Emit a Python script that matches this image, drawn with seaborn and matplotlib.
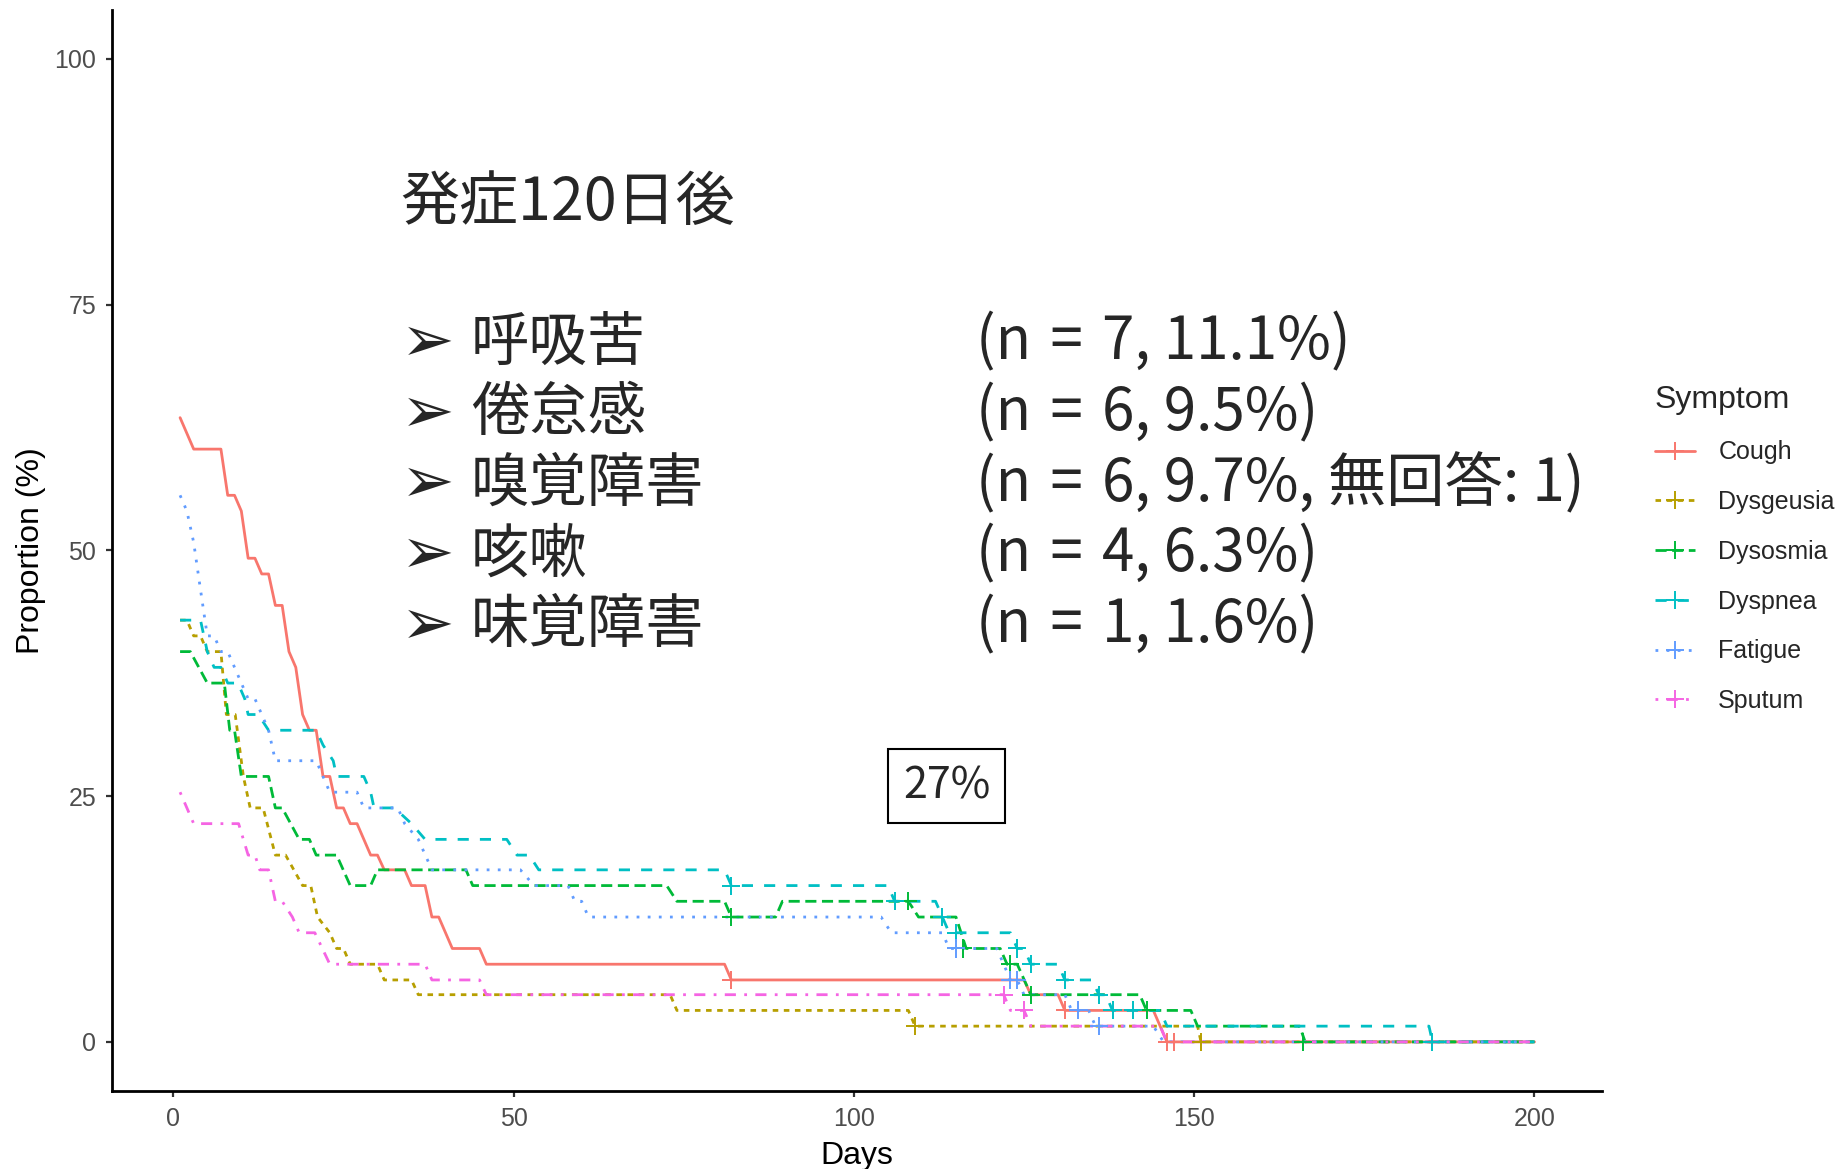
import matplotlib
matplotlib.use("Agg")
import matplotlib.pyplot as plt
from matplotlib.lines import Line2D
import pandas as pd
import seaborn as sns

# Symptom persistence curves (proportion of patients still reporting each symptom)
symptoms = ["Cough", "Dysgeusia", "Dysosmia", "Dyspnea", "Fatigue", "Sputum"]
colors = ["#F8766D", "#B79F00", "#00BA38", "#00BFC4", "#619CFF", "#F564E3"]
dash_patterns = ["", (2, 2), (4, 2), (4, 4), (1, 3), (1, 3, 4, 3)]

cough_day = [1, 3, 7, 8, 9, 10, 11, 12, 13, 14, 15, 16, 17, 18, 19, 20, 21, 22, 23, 24,
             25, 26, 27, 29, 30, 31, 34, 35, 37, 38, 39, 41, 45, 46, 81, 82, 125, 126,
             130, 131, 144, 146, 200]
cough_pct = [63.5, 60.3, 60.3, 55.6, 55.6, 54.0, 49.2, 49.2, 47.6, 47.6, 44.4, 44.4, 39.7,
             38.1, 33.3, 31.7, 31.7, 27.0, 27.0, 23.8, 23.8, 22.2, 22.2, 19.0, 19.0, 17.5,
             17.5, 15.9, 15.9, 12.7, 12.7, 9.5, 9.5, 7.9, 7.9, 6.3, 6.3, 4.8, 4.8, 3.2, 3.2,
             0.0, 0.0]

dysgeusia_day = [1, 2, 3, 4, 5, 7, 7.8, 8.6, 9.1, 10.3, 11.3, 13.2, 15, 16.5, 19, 20.2,
                 21.2, 23, 24, 25, 26, 30, 31, 35, 36, 73, 74, 108, 109, 150.5, 151, 200]
dysgeusia_pct = [42.9, 42.9, 41.3, 41.3, 39.7, 39.7, 33.3, 33.3, 33.3, 27.0, 23.8, 23.8,
                 19.0, 19.0, 15.9, 15.9, 12.7, 11.1, 9.5, 9.5, 7.9, 7.9, 6.3, 6.3, 4.8,
                 4.8, 3.2, 3.2, 1.6, 1.6, 0.0, 0.0]

dysosmia_day = [1, 2.5, 5, 7.5, 8.3, 9, 10, 14, 15, 16, 18.5, 20, 21, 24, 26, 29, 30, 43,
                44, 72.5, 74, 81, 82, 88.5, 89.5, 108, 109.5, 115, 116.5, 121.5, 122.5,
                124, 126, 142, 143, 149.5, 150.5, 165.5, 166.3, 200]
dysosmia_pct = [39.7, 39.7, 36.5, 36.5, 31.7, 31.7, 27.0, 27.0, 23.8, 23.8, 20.6, 20.6,
                19.0, 19.0, 15.9, 15.9, 17.5, 17.5, 15.9, 15.9, 14.3, 14.3, 12.7, 12.7,
                14.3, 14.3, 12.7, 12.7, 9.5, 9.5, 7.9, 7.9, 4.8, 4.8, 3.2, 3.2, 1.6, 1.6,
                0.0, 0.0]

dyspnea_day = [1, 4, 5, 6, 7, 8, 9.5, 10.5, 11, 12.5, 14, 21, 22, 23.5, 24, 28, 29, 29.5,
               32.5, 35, 37, 49, 50.5, 52.3, 53.7, 81, 82, 105, 106, 112, 113, 114, 123,
               124, 125, 126, 130, 131, 135, 136, 137, 138, 145, 146, 184.5, 185, 200]
dyspnea_pct = [42.9, 42.9, 39.7, 38.1, 38.1, 36.5, 36.5, 34.9, 33.3, 33.3, 31.7, 31.7,
               30.2, 28.6, 27.0, 27.0, 25.4, 23.8, 23.8, 22.2, 20.6, 20.6, 19.0, 19.0,
               17.5, 17.5, 15.9, 15.9, 14.3, 14.3, 12.7, 11.1, 11.1, 9.5, 9.5, 7.9, 7.9,
               6.3, 6.3, 4.8, 4.8, 3.2, 3.2, 1.6, 1.6, 0.0, 0.0]

fatigue_day = [1, 2, 3, 4, 5, 6, 7, 8, 9, 10, 11, 12, 13, 14, 15, 21, 22, 23, 27, 28, 33,
               34, 36, 38, 51, 53, 58, 59, 60, 61, 104, 105.5, 113, 114, 121, 122, 123,
               124, 125, 131, 132, 134.5, 135.5, 144, 145.5, 200]
fatigue_pct = [55.6, 54.0, 50.8, 46.0, 41.3, 41.3, 39.7, 39.7, 38.1, 36.5, 34.9, 34.9,
               33.3, 31.7, 28.6, 28.6, 27.0, 25.4, 25.4, 23.8, 23.8, 22.2, 20.6, 17.5,
               17.5, 15.9, 15.9, 14.3, 14.3, 12.7, 12.7, 11.1, 11.1, 9.5, 9.5, 7.9, 6.3,
               6.3, 4.8, 4.8, 3.2, 3.2, 1.6, 1.6, 0.0, 0.0]

sputum_day = [1, 2, 3, 9.6, 11, 12, 12.7, 14, 15, 16, 17.5, 18.5, 20.8, 23, 37, 38, 45,
              46, 122, 123, 125, 126, 145, 146, 200]
sputum_pct = [25.4, 23.8, 22.2, 22.2, 19.0, 19.0, 17.5, 17.5, 14.3, 14.3, 12.7, 11.1,
              11.1, 7.9, 7.9, 6.3, 6.3, 4.8, 4.8, 3.2, 3.2, 1.6, 1.6, 0.0, 0.0]

# censored observations (+)
cough_cens_day = [82, 131, 146, 147]
cough_cens_pct = [6.3, 3.2, 0.0, 0.0]
dysgeusia_cens_day = [109, 151]
dysgeusia_cens_pct = [1.6, 0.0]
dysosmia_cens_day = [82, 108, 116, 123, 126, 143, 166]
dysosmia_cens_pct = [12.7, 14.3, 9.5, 7.9, 4.8, 3.2, 0.0]
dyspnea_cens_day = [82, 106, 113, 115, 124, 126, 131, 136, 138, 141, 185]
dyspnea_cens_pct = [15.9, 14.3, 12.7, 11.1, 9.5, 7.9, 6.3, 4.8, 3.2, 3.2, 0.0]
fatigue_cens_day = [115, 123, 124, 133, 136]
fatigue_cens_pct = [9.5, 6.3, 6.3, 3.2, 1.6]
sputum_cens_day = [122, 125]
sputum_cens_pct = [4.8, 3.2]

# annotation text
headline = "発症120日後"
item_labels = ["呼吸苦", "倦怠感", "嗅覚障害", "咳嗽", "味覚障害"]
item_counts = ["(n\u2004=\u20047, 11.1%)", "(n\u2004=\u20046, 9.5%)",
               "(n\u2004=\u20046, 9.7%, 無回答: 1)", "(n\u2004=\u20044, 6.3%)",
               "(n\u2004=\u20041, 1.6%)"]
box_label = "27%"
box_day, box_pct = 113.6, 26.0

curves = {
    "Cough": (cough_day, cough_pct, cough_cens_day, cough_cens_pct),
    "Dysgeusia": (dysgeusia_day, dysgeusia_pct, dysgeusia_cens_day, dysgeusia_cens_pct),
    "Dysosmia": (dysosmia_day, dysosmia_pct, dysosmia_cens_day, dysosmia_cens_pct),
    "Dyspnea": (dyspnea_day, dyspnea_pct, dyspnea_cens_day, dyspnea_cens_pct),
    "Fatigue": (fatigue_day, fatigue_pct, fatigue_cens_day, fatigue_cens_pct),
    "Sputum": (sputum_day, sputum_pct, sputum_cens_day, sputum_cens_pct),
}

line_rows, cens_rows = [], []
for name, (d, p, cd, cp) in curves.items():
    line_rows += [(name, i, x, y) for i, (x, y) in enumerate(zip(d, p))]
    cens_rows += [(name, x, y) for x, y in zip(cd, cp)]
lines_df = pd.DataFrame(line_rows, columns=["Symptom", "order", "Days", "Proportion"])
cens_df = pd.DataFrame(cens_rows, columns=["Symptom", "Days", "Proportion"])

sns.set_theme(style="white")
plt.rcParams["font.family"] = ["Liberation Sans", "Noto Sans CJK JP", "DejaVu Sans"]

palette = dict(zip(symptoms, colors))
dashes = dict(zip(symptoms, dash_patterns))
LW = 2.0

fig = plt.figure(figsize=(18.48, 11.69), dpi=100)
ax = fig.add_axes([0.0608, 0.0667, 0.8062, 0.925])

sns.lineplot(data=lines_df, x="Days", y="Proportion", hue="Symptom", style="Symptom",
             hue_order=symptoms, style_order=symptoms, palette=palette, dashes=dashes,
             estimator=None, sort=False, units="Symptom", linewidth=LW, legend=False, ax=ax)
sns.scatterplot(data=cens_df, x="Days", y="Proportion", hue="Symptom", hue_order=symptoms,
                palette=palette, marker="+", s=170, linewidth=1.4, legend=False, ax=ax,
                zorder=3)

ax.set_xlim(-8.95, 209.95)
ax.set_ylim(-5, 105)
ax.set_xticks([0, 50, 100, 150, 200])
ax.set_yticks([0, 25, 50, 75, 100])
for side in ["top", "right"]:
    ax.spines[side].set_visible(False)
for side in ["left", "bottom"]:
    ax.spines[side].set_linewidth(2.0)
    ax.spines[side].set_color("black")
ax.tick_params(axis="both", which="major", length=4.5, width=1.6, color="#333333",
               labelsize=18, labelcolor="#4D4D4D", pad=7, left=True, bottom=True)
ax.set_xlabel("Days", fontsize=23, color="black", labelpad=7)
ax.set_ylabel("Proportion (%)", fontsize=23, color="black", labelpad=6)
ax.grid(False)

cjk = ["Noto Sans CJK JP", "DejaVu Sans"]
fig.text(0.2165, 0.8255, headline, fontsize=42.5, family=cjk, ha="left", va="center")
row_y = [0.7067, 0.6461, 0.5856, 0.5251, 0.4647]
for y, lab, cnt in zip(row_y, item_labels, item_counts):
    fig.text(0.2168, y, "\u27a2", fontsize=46, family=["DejaVu Sans"], ha="left", va="center")
    fig.text(0.2549, y, lab, fontsize=42, family=cjk, ha="left", va="center")
    fig.text(0.5281, y, cnt, fontsize=42, family=cjk, ha="left", va="center")

ax.text(box_day, box_pct, box_label, fontsize=31, family=cjk, ha="center", va="center",
        bbox=dict(boxstyle="square,pad=0.35", fc="white", ec="black", lw=1.5))

handles = []
for name, c, dp in zip(symptoms, colors, dash_patterns):
    if dp == "":
        h = Line2D([], [], color=c, lw=LW, linestyle="-", marker="+", markersize=13,
                   markeredgewidth=1.4)
    else:
        h = Line2D([], [], color=c, lw=LW, dashes=dp, marker="+", markersize=13,
                   markeredgewidth=1.4)
    handles.append(h)
leg = fig.legend(handles, symptoms, title="Symptom", loc="upper left",
                 bbox_to_anchor=(1632 / 1848, 1 - 362 / 1169), frameon=False,
                 fontsize=18, title_fontsize=23, handlelength=1.6, handletextpad=0.95,
                 labelspacing=1.03, numpoints=1)
leg._legend_box.align = "left"

fig.savefig("out.png", dpi=100)
